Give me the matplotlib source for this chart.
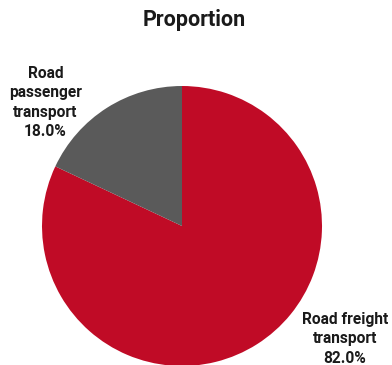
import matplotlib
matplotlib.use("Agg")
import matplotlib.pyplot as plt

categories = ["Road freight\ntransport", "Road passenger\ntransport"]
shares = [82.0, 18.0]
colors = ["#C00B26", "#5A5A5A"]

plt.rcParams["font.family"] = ["Roboto", "DejaVu Sans"]

W, H = 392, 365
fig = plt.figure(figsize=(W / 100, H / 100), dpi=100)
fig.patch.set_facecolor("white")

cx, cy, r = 182, 226, 140
ax = fig.add_axes([(cx - r) / W, (H - cy - r) / H, 2 * r / W, 2 * r / H])

wedges, _ = ax.pie(shares, colors=colors, startangle=90, counterclock=False,
                   radius=1, wedgeprops=dict(linewidth=0))
for w in wedges:
    w.set_clip_on(False)
ax.set_xlim(-1, 1)
ax.set_ylim(-1, 1)
ax.axis("off")

label_pos = [(1.165, -0.805), (-0.975, 0.882)]
label_text = ["Road freight\ntransport", "Road\npassenger\ntransport"]
for (x, y), txt, v in zip(label_pos, label_text, shares):
    ax.text(x, y, f"{txt}\n{v:.1f}%", ha="center", va="center",
            fontsize=11.2, fontweight="bold", color="#1a1a1a",
            linespacing=1.38, clip_on=False)

fig.text(194 / W, 1 - 20 / H, "Proportion", ha="center", va="center",
         fontsize=15.5, fontweight="bold", color="#1a1a1a")

fig.savefig("out.png", dpi=100)
